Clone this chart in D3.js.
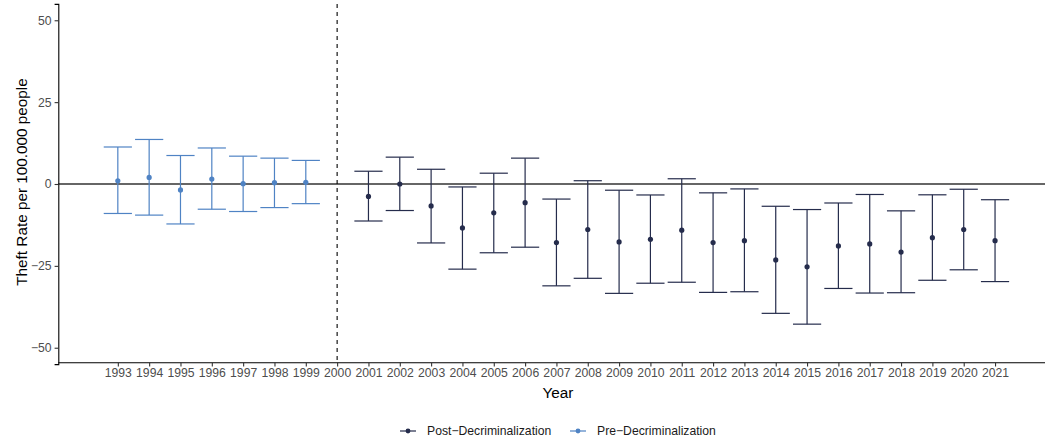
<!DOCTYPE html>
<html>
<head>
<meta charset="utf-8">
<script src="https://cdn.jsdelivr.net/npm/d3@7"></script>
<style>
  body { margin: 0; background: #fff; }
  svg { display: block; font-family: "Liberation Sans", Arial, sans-serif; }
</style>
</head>
<body>
<svg id="chart"></svg>
<script>
// Data: estimates with confidence intervals per year
const preYears = [1993, 1994, 1995, 1996, 1997, 1998, 1999];
const preEst   = [1.0, 2.0, -1.8, 1.5, 0.1, 0.4, 0.5];
const preLow   = [-9.0, -9.5, -12.2, -7.7, -8.4, -7.2, -6.0];
const preHigh  = [11.3, 13.6, 8.7, 11.0, 8.5, 7.9, 7.2];

const postYears = [2001, 2002, 2003, 2004, 2005, 2006, 2007, 2008, 2009, 2010, 2011,
                   2012, 2013, 2014, 2015, 2016, 2017, 2018, 2019, 2020, 2021];
const postEst  = [-3.8, 0.0, -6.7, -13.4, -8.8, -5.7, -17.9, -13.9, -17.7, -16.9, -14.1,
                  -17.9, -17.3, -23.2, -25.3, -18.9, -18.3, -20.8, -16.4, -13.9, -17.3];
const postLow  = [-11.3, -8.1, -18.0, -26.0, -21.0, -19.3, -31.1, -28.8, -33.4, -30.3, -30.0,
                  -33.1, -32.9, -39.5, -42.8, -31.9, -33.3, -33.2, -29.4, -26.2, -29.8];
const postHigh = [3.9, 8.2, 4.5, -0.9, 3.3, 7.9, -4.6, 1.0, -1.9, -3.35, 1.6,
                  -2.7, -1.5, -6.8, -7.8, -5.8, -3.2, -8.2, -3.3, -1.6, -4.8];

const xTicks = d3.range(1993, 2022);
const yTicks = [-50, -25, 0, 25, 50];
const cutYear = 2000;

const seriesNames = ["Post\u2212Decriminalization", "Pre\u2212Decriminalization"];
const colors = { pre: "#4f83c4", post: "#252c4c" };

// Dimensions
const width = 1045;
const height = 442;

const svg = d3.select("#chart")
    .attr("width", width)
    .attr("height", height);

const rows = [
    ...preYears.map((y, i) => ({ year: y, est: preEst[i], lo: preLow[i], hi: preHigh[i], grp: "pre" })),
    ...postYears.map((y, i) => ({ year: y, est: postEst[i], lo: postLow[i], hi: postHigh[i], grp: "post" }))
];

// Scales
const x = d3.scaleLinear()
    .domain([1991.1, 2022.85])
    .range([58.3, 1053]);

const y = d3.scaleLinear()
    .domain([-55, 55])
    .range([364.1, 3.9]);

const capHalf = x(1993.45) - x(1993);

// Zero line
svg.append("line")
    .attr("x1", x.range()[0]).attr("x2", width)
    .attr("y1", y(0)).attr("y2", y(0))
    .attr("stroke", "#333")
    .attr("stroke-width", 1.3);

// Dashed cut line
svg.append("line")
    .attr("x1", x(cutYear)).attr("x2", x(cutYear))
    .attr("y1", y.range()[1]).attr("y2", y.range()[0])
    .attr("stroke", "#000")
    .attr("stroke-width", 1.1)
    .attr("stroke-dasharray", "4,4");

// Error bars
const bars = svg.append("g").selectAll("g")
    .data(rows)
    .join("g")
    .attr("stroke", d => colors[d.grp])
    .attr("stroke-width", 1.2)
    .attr("fill", "none");

bars.append("line")
    .attr("x1", d => x(d.year)).attr("x2", d => x(d.year))
    .attr("y1", d => y(d.lo)).attr("y2", d => y(d.hi));
bars.append("line")
    .attr("x1", d => x(d.year) - capHalf).attr("x2", d => x(d.year) + capHalf)
    .attr("y1", d => y(d.hi)).attr("y2", d => y(d.hi));
bars.append("line")
    .attr("x1", d => x(d.year) - capHalf).attr("x2", d => x(d.year) + capHalf)
    .attr("y1", d => y(d.lo)).attr("y2", d => y(d.lo));

// Points
svg.append("g").selectAll("circle")
    .data(rows)
    .join("circle")
    .attr("cx", d => x(d.year))
    .attr("cy", d => y(d.est))
    .attr("r", 2.6)
    .attr("fill", d => colors[d.grp]);

// Axes
const xAxis = svg.append("g")
    .attr("transform", `translate(0,${y.range()[0] - 1.3})`)
    .call(d3.axisBottom(x).tickValues(xTicks).tickFormat(d3.format("d")).tickSizeOuter(0).tickSize(3.7).tickPadding(2));

const yAxis = svg.append("g")
    .attr("transform", `translate(${x.range()[0]},0)`)
    .call(d3.axisLeft(y).tickValues(yTicks).tickFormat(d => d < 0 ? "\u2212" + Math.abs(d) : d).tickSizeOuter(0).tickSize(3.7).tickPadding(3));

[xAxis, yAxis].forEach(a => {
    a.select(".domain").attr("stroke", "#000").attr("stroke-width", 1.1);
    a.selectAll(".tick line").attr("stroke", "#333").attr("stroke-width", 1.1);
    a.selectAll(".tick text")
        .attr("fill", "#4d4d4d")
        .style("font-size", "12.2px")
        .style("font-family", "Liberation Sans, Arial, sans-serif");
});
xAxis.select(".domain").attr("d", `M${x.range()[0]},0H${width}`);

// Axis titles
svg.append("text")
    .attr("x", 558)
    .attr("y", 397.5)
    .attr("text-anchor", "middle")
    .style("font-size", "15.3px")
    .text("Year");

svg.append("text")
    .attr("transform", `translate(26.5,${(y.range()[0] + y.range()[1]) / 2 - 2}) rotate(-90)`)
    .attr("text-anchor", "middle")
    .style("font-size", "15.3px")
    .text("Theft Rate per 100.000 people");

// Legend
const legendItems = [
    { name: seriesNames[0], color: colors.post, kx: 408 },
    { name: seriesNames[1], color: colors.pre, kx: 578 }
];
const legY = 431;
const leg = svg.append("g").selectAll("g")
    .data(legendItems)
    .join("g");
leg.append("line")
    .attr("x1", d => d.kx - 8).attr("x2", d => d.kx + 8)
    .attr("y1", legY).attr("y2", legY)
    .attr("stroke", d => d.color)
    .attr("stroke-width", 1.2);
leg.append("circle")
    .attr("cx", d => d.kx).attr("cy", legY)
    .attr("r", 2.4)
    .attr("fill", d => d.color);
leg.append("text")
    .attr("x", d => d.kx + 19)
    .attr("y", legY)
    .attr("dy", "0.36em")
    .style("font-size", "12.2px")
    .attr("fill", "#1a1a1a")
    .text(d => d.name);
</script>
</body>
</html>
